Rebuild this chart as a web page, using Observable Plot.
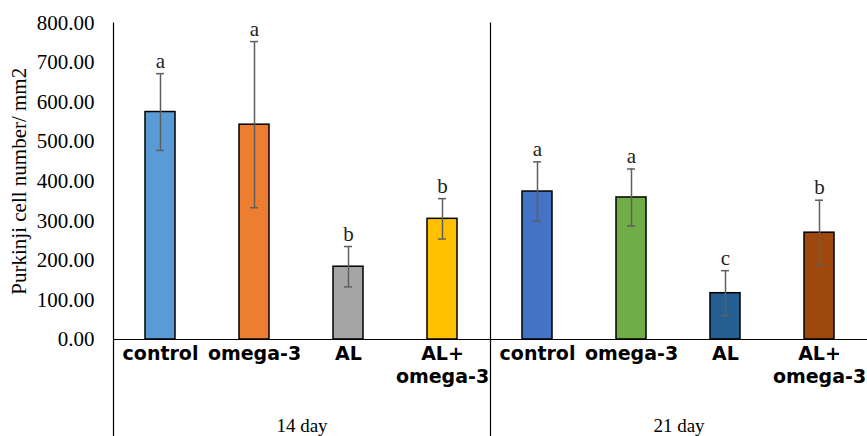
<!DOCTYPE html>
<html>
<head>
<meta charset="utf-8">
<script src="https://cdn.jsdelivr.net/npm/d3@7"></script>
<script src="https://cdn.jsdelivr.net/npm/@observablehq/plot@0.6"></script>
<style>
  html, body { margin: 0; padding: 0; background: #fff; }
  #chart svg { display: block; }
</style>
</head>
<body>
<div id="chart"></div>
<script>
// ---- data ----
const days = ["14 day", "21 day"];
const treatments = ["control", "omega-3", "AL", "AL+ omega-3"];
const treatmentLabels = ["control", "omega-3", "AL", "AL+\nomega-3"];
const means14 = [575, 543, 184, 305];
const errors14 = [97, 210, 51, 51];
const letters14 = ["a", "a", "b", "b"];
const means21 = [374, 359, 117, 270];
const errors21 = [75, 72, 57, 82];
const letters21 = ["a", "a", "c", "b"];
const yTicks = [0, 100, 200, 300, 400, 500, 600, 700, 800];
const yLabel = "Purkinji cell number/ mm2";

// ---- styles ----
const barColors = ["#5B9BD5", "#ED7D31", "#A5A5A5", "#FFC000",
                   "#4472C4", "#70AD47", "#255E91", "#9E480E"];

const rows = [];
[[means14, errors14, letters14], [means21, errors21, letters21]].forEach(([m, e, l], di) => {
  treatments.forEach((t, i) => {
    rows.push({
      day: days[di], treatment: t, key: days[di] + "|" + t,
      mean: m[i], low: m[i] - e[i], high: m[i] + e[i], letter: l[i]
    });
  });
});

const serif = "'Liberation Serif', 'Times New Roman', serif";
const chart = Plot.plot({
  width: 867,
  height: 436,
  marginLeft: 112,
  marginRight: 0,
  marginTop: 22.5,
  marginBottom: 97,
  style: {fontFamily: serif, color: "#000", background: "#fff"},
  fx: {domain: days, paddingInner: 0, paddingOuter: 0, axis: null},
  x: {domain: treatments, paddingInner: 0.68, paddingOuter: 0.34, axis: null},
  y: {domain: [0, 800], axis: null},
  color: {domain: rows.map(d => d.key), range: barColors},
  marks: [
    Plot.barY(rows, {fx: "day", x: "treatment", y: "mean", fill: "key",
      stroke: "#000", strokeWidth: 1.5}),
    Plot.ruleX(rows, {fx: "day", x: "treatment", y1: "low", y2: "high",
      stroke: "#5f5f5f", strokeWidth: 1.5}),
    Plot.tickY(rows, {fx: "day", x: "treatment", y: "high", stroke: "#5f5f5f",
      strokeWidth: 1.5, insetLeft: 11, insetRight: 11}),
    Plot.tickY(rows, {fx: "day", x: "treatment", y: "low", stroke: "#5f5f5f",
      strokeWidth: 1.5, insetLeft: 11, insetRight: 11}),
    Plot.text(rows, {fx: "day", x: "treatment", y: "high", text: "letter",
      dy: -6, lineAnchor: "bottom", fontFamily: serif, fontSize: 21, fill: "#222"}),
    Plot.ruleY([0], {stroke: "#000", strokeWidth: 1.2}),
    Plot.frame({anchor: "left", insetBottom: -97, stroke: "#000", strokeWidth: 1.2}),
    Plot.axisY({ticks: yTicks, tickFormat: d3.format(".2f"), tickSize: 0, tickPadding: 19,
      fontFamily: serif, fontSize: 21, fill: "#000",
      label: yLabel, labelAnchor: "center", labelOffset: 102, labelArrow: "none"}),
    Plot.axisX({tickSize: 0, tickPadding: 5, label: null,
      tickFormat: d => treatmentLabels[treatments.indexOf(d)],
      fontFamily: "'DejaVu Sans', Verdana, sans-serif", fontWeight: "bold",
      fontSize: 19, lineHeight: 1.18, fill: "#000"}),
    Plot.axisFx({anchor: "bottom", tickSize: 0, tickPadding: 79, label: null,
      fontFamily: serif, fontSize: 19, fill: "#000"})
  ]
});
document.getElementById("chart").appendChild(chart);
</script>
</body>
</html>
